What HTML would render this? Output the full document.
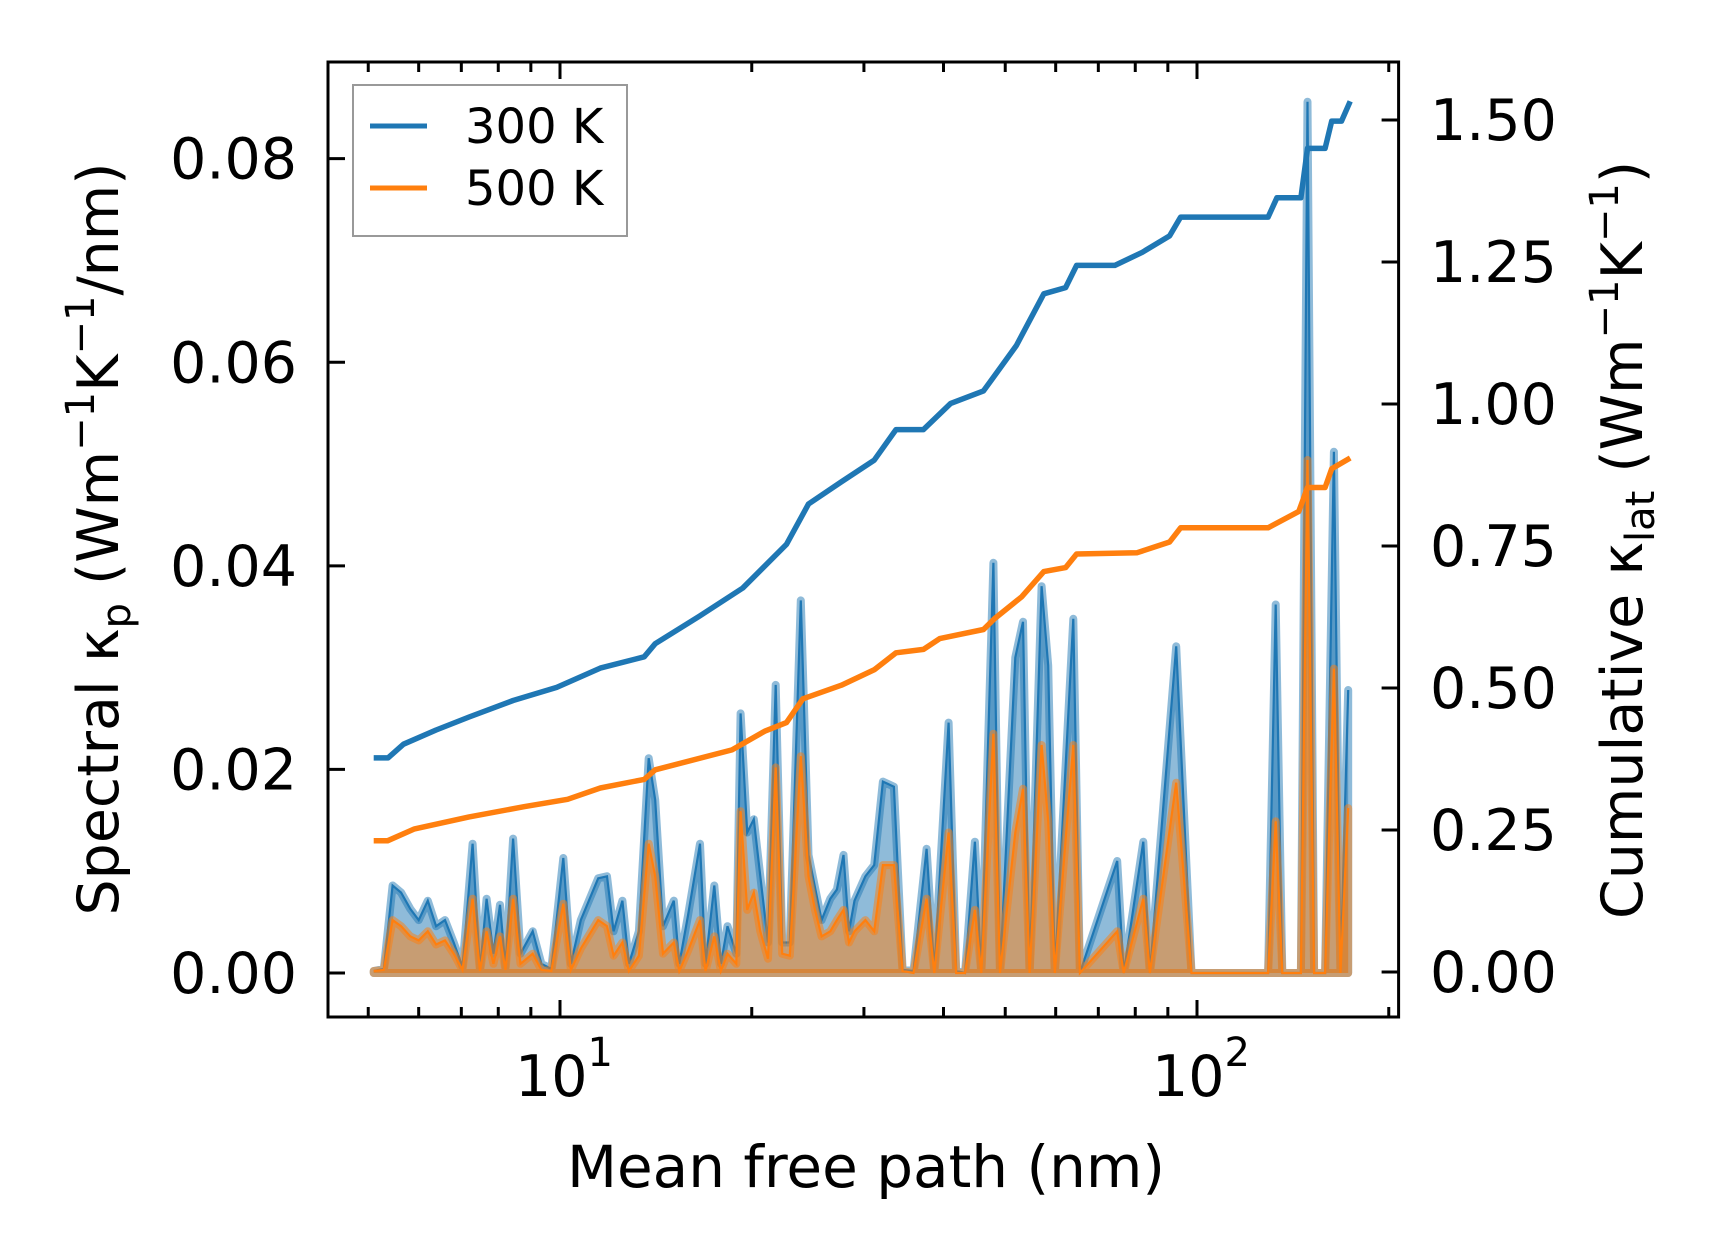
<!DOCTYPE html>
<html><head><meta charset="utf-8">
<style>
html,body{margin:0;padding:0;background:#fff;}
svg{display:block;font-family:"DejaVu Sans","Liberation Sans",sans-serif;}
</style></head>
<body>
<svg id="chart" width="1716" height="1254" viewBox="0 0 1716 1254" xmlns="http://www.w3.org/2000/svg">
<rect x="0" y="0" width="1716" height="1254" fill="#fff"/>
<g id="plot"></g>
<g id="axes"></g>
</svg>
<script>
// ---- data ----
const mfp = [5.10,5.29,5.46,5.63,5.82,6.00,6.20,6.39,6.60,6.81,
 7.03,7.29,7.49,7.67,7.86,8.05,8.21,8.44,8.67,9.06,
 9.35,9.69,10.12,10.40,10.78,11.48,11.85,12.14,12.53,12.83,
 13.30,13.78,14.11,14.51,15.09,15.39,15.89,16.59,16.92,17.47,
 17.89,18.32,18.91,19.21,19.67,20.15,20.63,21.21,21.81,22.33,
 22.95,23.88,24.55,25.14,25.74,26.57,27.21,27.86,28.42,28.99,
 30.16,31.13,32.13,33.43,34.50,35.89,37.63,38.69,40.74,41.88,
 43.23,44.80,45.85,47.91,49.06,51.86,53.32,54.60,57.02,58.39,
 59.80,63.94,65.48,74.93,76.73,82.37,84.35,92.77,98.04,129.3,
 132.9,136.1,145.6,149.1,152.7,158.9,164.0,168.0,172.7];
const spec300 = [.0002,.0004,.0086,.0079,.0063,.0052,.0071,.0046,.0052,.0030,
 .0006,.0127,.0003,.0073,.0019,.0067,.0006,.0132,.0019,.0041,
 .0009,.0004,.0113,.0009,.0052,.0093,.0095,.0041,.0071,.0009,
 .0041,.0211,.0170,.0046,.0071,.0009,.0057,.0127,.0009,.0086,
 .0009,.0046,.0019,.0255,.0138,.0151,.0095,.0030,.0283,.0030,
 .0030,.0366,.0116,.0084,.0052,.0073,.0082,.0116,.0041,.0071,
 .0095,.0106,.0188,.0183,.0003,.0002,.0122,.0002,.0246,.0002,
 0,.0129,0,.0403,0,.0310,.0345,0,.0380,.0302,
 0,.0348,0,.0110,0,.0129,0,.0321,0,0,
 .0362,0,0,.0856,0,0,.0512,0,.0278];
const spec500 = [.0002,.0003,.0052,.0046,.0036,.0032,.0041,.0028,.0032,.0019,
 .0003,.0073,.0002,.0041,.0009,.0036,.0003,.0073,.0009,.0019,
 .0003,.0002,.0068,.0003,.0024,.0052,.0046,.0017,.0030,.0002,
 .0017,.0127,.0095,.0019,.0030,.0002,.0022,.0052,.0002,.0036,
 .0002,.0019,.0009,.0159,.0062,.0079,.0041,.0014,.0202,.0019,
 .0017,.0213,.0095,.0062,.0036,.0041,.0052,.0062,.0030,.0041,
 .0052,.0041,.0106,.0106,.0002,0,.0073,0,.0138,0,
 0,.0062,0,.0235,0,.0138,.0181,0,.0224,.0149,
 0,.0224,0,.0041,0,.0073,0,.0187,0,0,
 .0149,0,0,.0504,0,0,.0299,0,.0162];
const cumMfp300 = [5.10,5.37,5.68,6.39,7.20,8.44,9.88,11.57,13.56,14.11,16.53,19.36,22.68,24.55,27.65,31.13,33.69,37.19,41.06,46.22,48.48,52.06,57.47,62.20,64.71,74.33,82.06,90.58,94.24,129.3,133.5,145.6,149.1,158.9,162.7,168.6,174.0];
const cum300 = [0.377,0.377,0.401,0.426,0.449,0.478,0.501,0.535,0.555,0.578,0.626,0.676,0.753,0.824,0.863,0.901,0.955,0.955,1.001,1.023,1.055,1.103,1.194,1.205,1.244,1.244,1.267,1.296,1.329,1.329,1.363,1.363,1.450,1.450,1.498,1.498,1.533];
const cumMfp500 = [5.10,5.36,5.91,7.20,8.78,10.28,11.57,13.56,14.11,18.62,20.96,22.68,24.06,27.65,31.13,33.69,37.19,39.47,46.22,48.10,53.1,57.47,62.20,64.71,80.45,90.58,94.24,129.3,144.5,149.1,158.9,162.7,174.0];
const cum500 = [0.231,0.231,0.252,0.273,0.291,0.304,0.324,0.339,0.356,0.391,0.424,0.439,0.481,0.505,0.532,0.562,0.568,0.587,0.603,0.622,0.661,0.705,0.712,0.736,0.738,0.757,0.782,0.782,0.811,0.853,0.853,0.886,0.905];
const leftTicks = [0,0.02,0.04,0.06,0.08];
const leftTickLabels = ["0.00","0.02","0.04","0.06","0.08"];
const rightTicks = [0,0.25,0.5,0.75,1.0,1.25,1.5];
const rightTickLabels = ["0.00","0.25","0.50","0.75","1.00","1.25","1.50"];
const xMajor = [10,100];
const xMajorExp = ["1","2"];

// ---- geometry ----
const L=328, R=1398.6, T=62, B=1017;
const NS="http://www.w3.org/2000/svg";
function xs(v){return 560+(Math.log10(v)-1)*637;}
function yl(v){return 973 - v*10179;}
function yr(v){return 972 - v*568;}
function mk(tag,attrs,parent){const e=document.createElementNS(NS,tag);for(const k in attrs)e.setAttribute(k,attrs[k]);parent.appendChild(e);return e;}
const plot=document.getElementById('plot'), axes=document.getElementById('axes');

function area(vals,color,name){
  let d='M'+xs(mfp[0])+','+yl(0);
  for(let i=0;i<mfp.length;i++) d+=' L'+xs(mfp[i]).toFixed(1)+','+yl(vals[i]).toFixed(1);
  d+=' L'+xs(mfp[mfp.length-1])+','+yl(0)+' Z';
  const p=mk('path',{d:d,fill:color,'fill-opacity':0.5,stroke:color,'stroke-opacity':0.5,'stroke-width':8,'stroke-linejoin':'round'},plot);
  
  
  let d2='';
  for(let i=0;i<mfp.length;i++) d2+=(i?' L':'M')+xs(mfp[i]).toFixed(1)+','+yl(vals[i]).toFixed(1);
  const l=mk('path',{d:d2,fill:'none',stroke:color,'stroke-width':2.2},plot);
  
  
}
area(spec300,'#1f77b4','spectral-300k');
area(spec500,'#ff7f0e','spectral-500k');

function cum(xsArr,vals,color,name){
  let d='';
  for(let i=0;i<xsArr.length;i++) d+=(i?' L':'M')+xs(xsArr[i]).toFixed(1)+','+yr(vals[i]).toFixed(1);
  const p=mk('path',{d:d,fill:'none',stroke:color,'stroke-width':5.5,'stroke-linejoin':'round'},plot);
  
  
}
cum(cumMfp300,cum300,'#1f77b4','cumulative-300k');
cum(cumMfp500,cum500,'#ff7f0e','cumulative-500k');

// spines
const fr=mk('rect',{x:L,y:T,width:R-L,height:B-T,fill:'none',stroke:'#000','stroke-width':3},axes);



// x ticks
for(let dec=1;dec<=100;dec*=10){
  for(let m=1;m<10;m++){
    const v=dec*m; if(v<4.5||v>200) continue;
    const x=xs(v); const len=(m===1)?17:10;
    const tb=mk('line',{x1:x,x2:x,y1:B,y2:B-len,stroke:'#000','stroke-width':3},axes);
    
    
    const tt=mk('line',{x1:x,x2:x,y1:T,y2:T+len,stroke:'#000','stroke-width':3},axes);
    
    
  }
}
xMajor.forEach((v,i)=>{
  const t=mk('text',{x:xs(v)+4,y:1096,'font-size':57,'text-anchor':'middle'},axes);
  
  
  t.textContent='10';
  const s=mk('tspan',{dy:-30,'font-size':40},t);
  s.textContent=xMajorExp[i];
});
leftTicks.forEach((v,i)=>{
  const y=yl(v);
  const tk=mk('line',{x1:L,x2:L+17,y1:y,y2:y,stroke:'#000','stroke-width':3},axes);
  
  
  const t=mk('text',{x:297,y:y+20,'font-size':57,'text-anchor':'end'},axes);
  
  
  t.textContent=leftTickLabels[i];
});
rightTicks.forEach((v,i)=>{
  const y=yr(v);
  const tk=mk('line',{x1:R,x2:R-17,y1:y,y2:y,stroke:'#000','stroke-width':3},axes);
  
  
  const t=mk('text',{x:1430,y:y+20,'font-size':57,'text-anchor':'start'},axes);
  
  
  t.textContent=rightTickLabels[i];
});
</script>
<script>
(function(){
const svg=document.getElementById('chart');
svg.insertAdjacentHTML('beforeend',
'<text x="866" y="1187" font-size="58" text-anchor="middle">Mean free path (nm)</text>'+
'<text transform="translate(118,539) rotate(-90)" font-size="57" text-anchor="middle">Spectral κ<tspan font-size="40" dy="12">p</tspan><tspan dy="-12"> (Wm</tspan><tspan font-size="40" dy="-24">−1</tspan><tspan dy="24">K</tspan><tspan font-size="40" dy="-24">−1</tspan><tspan dy="24">/nm)</tspan></text>'+
'<text transform="translate(1642,540) rotate(-90)" font-size="57" text-anchor="middle">Cumulative κ<tspan font-size="40" dy="12">lat</tspan><tspan dy="-12"> (Wm</tspan><tspan font-size="40" dy="-24">−1</tspan><tspan dy="24">K</tspan><tspan font-size="40" dy="-24">−1</tspan><tspan dy="24">)</tspan></text>'+
'<g>'+
'<rect x="353" y="85" width="274" height="151" fill="#fff" fill-opacity="0.8" stroke="#999" stroke-width="2"/>'+
'<line x1="370" x2="427" y1="126" y2="126" stroke="#1f77b4" stroke-width="5"/>'+
'<text x="465" y="143" font-size="48">300 K</text>'+
'<line x1="370" x2="427" y1="188" y2="188" stroke="#ff7f0e" stroke-width="5"/>'+
'<text x="465" y="205" font-size="48">500 K</text>'+
'</g>');
})();
</script>
</body></html>
